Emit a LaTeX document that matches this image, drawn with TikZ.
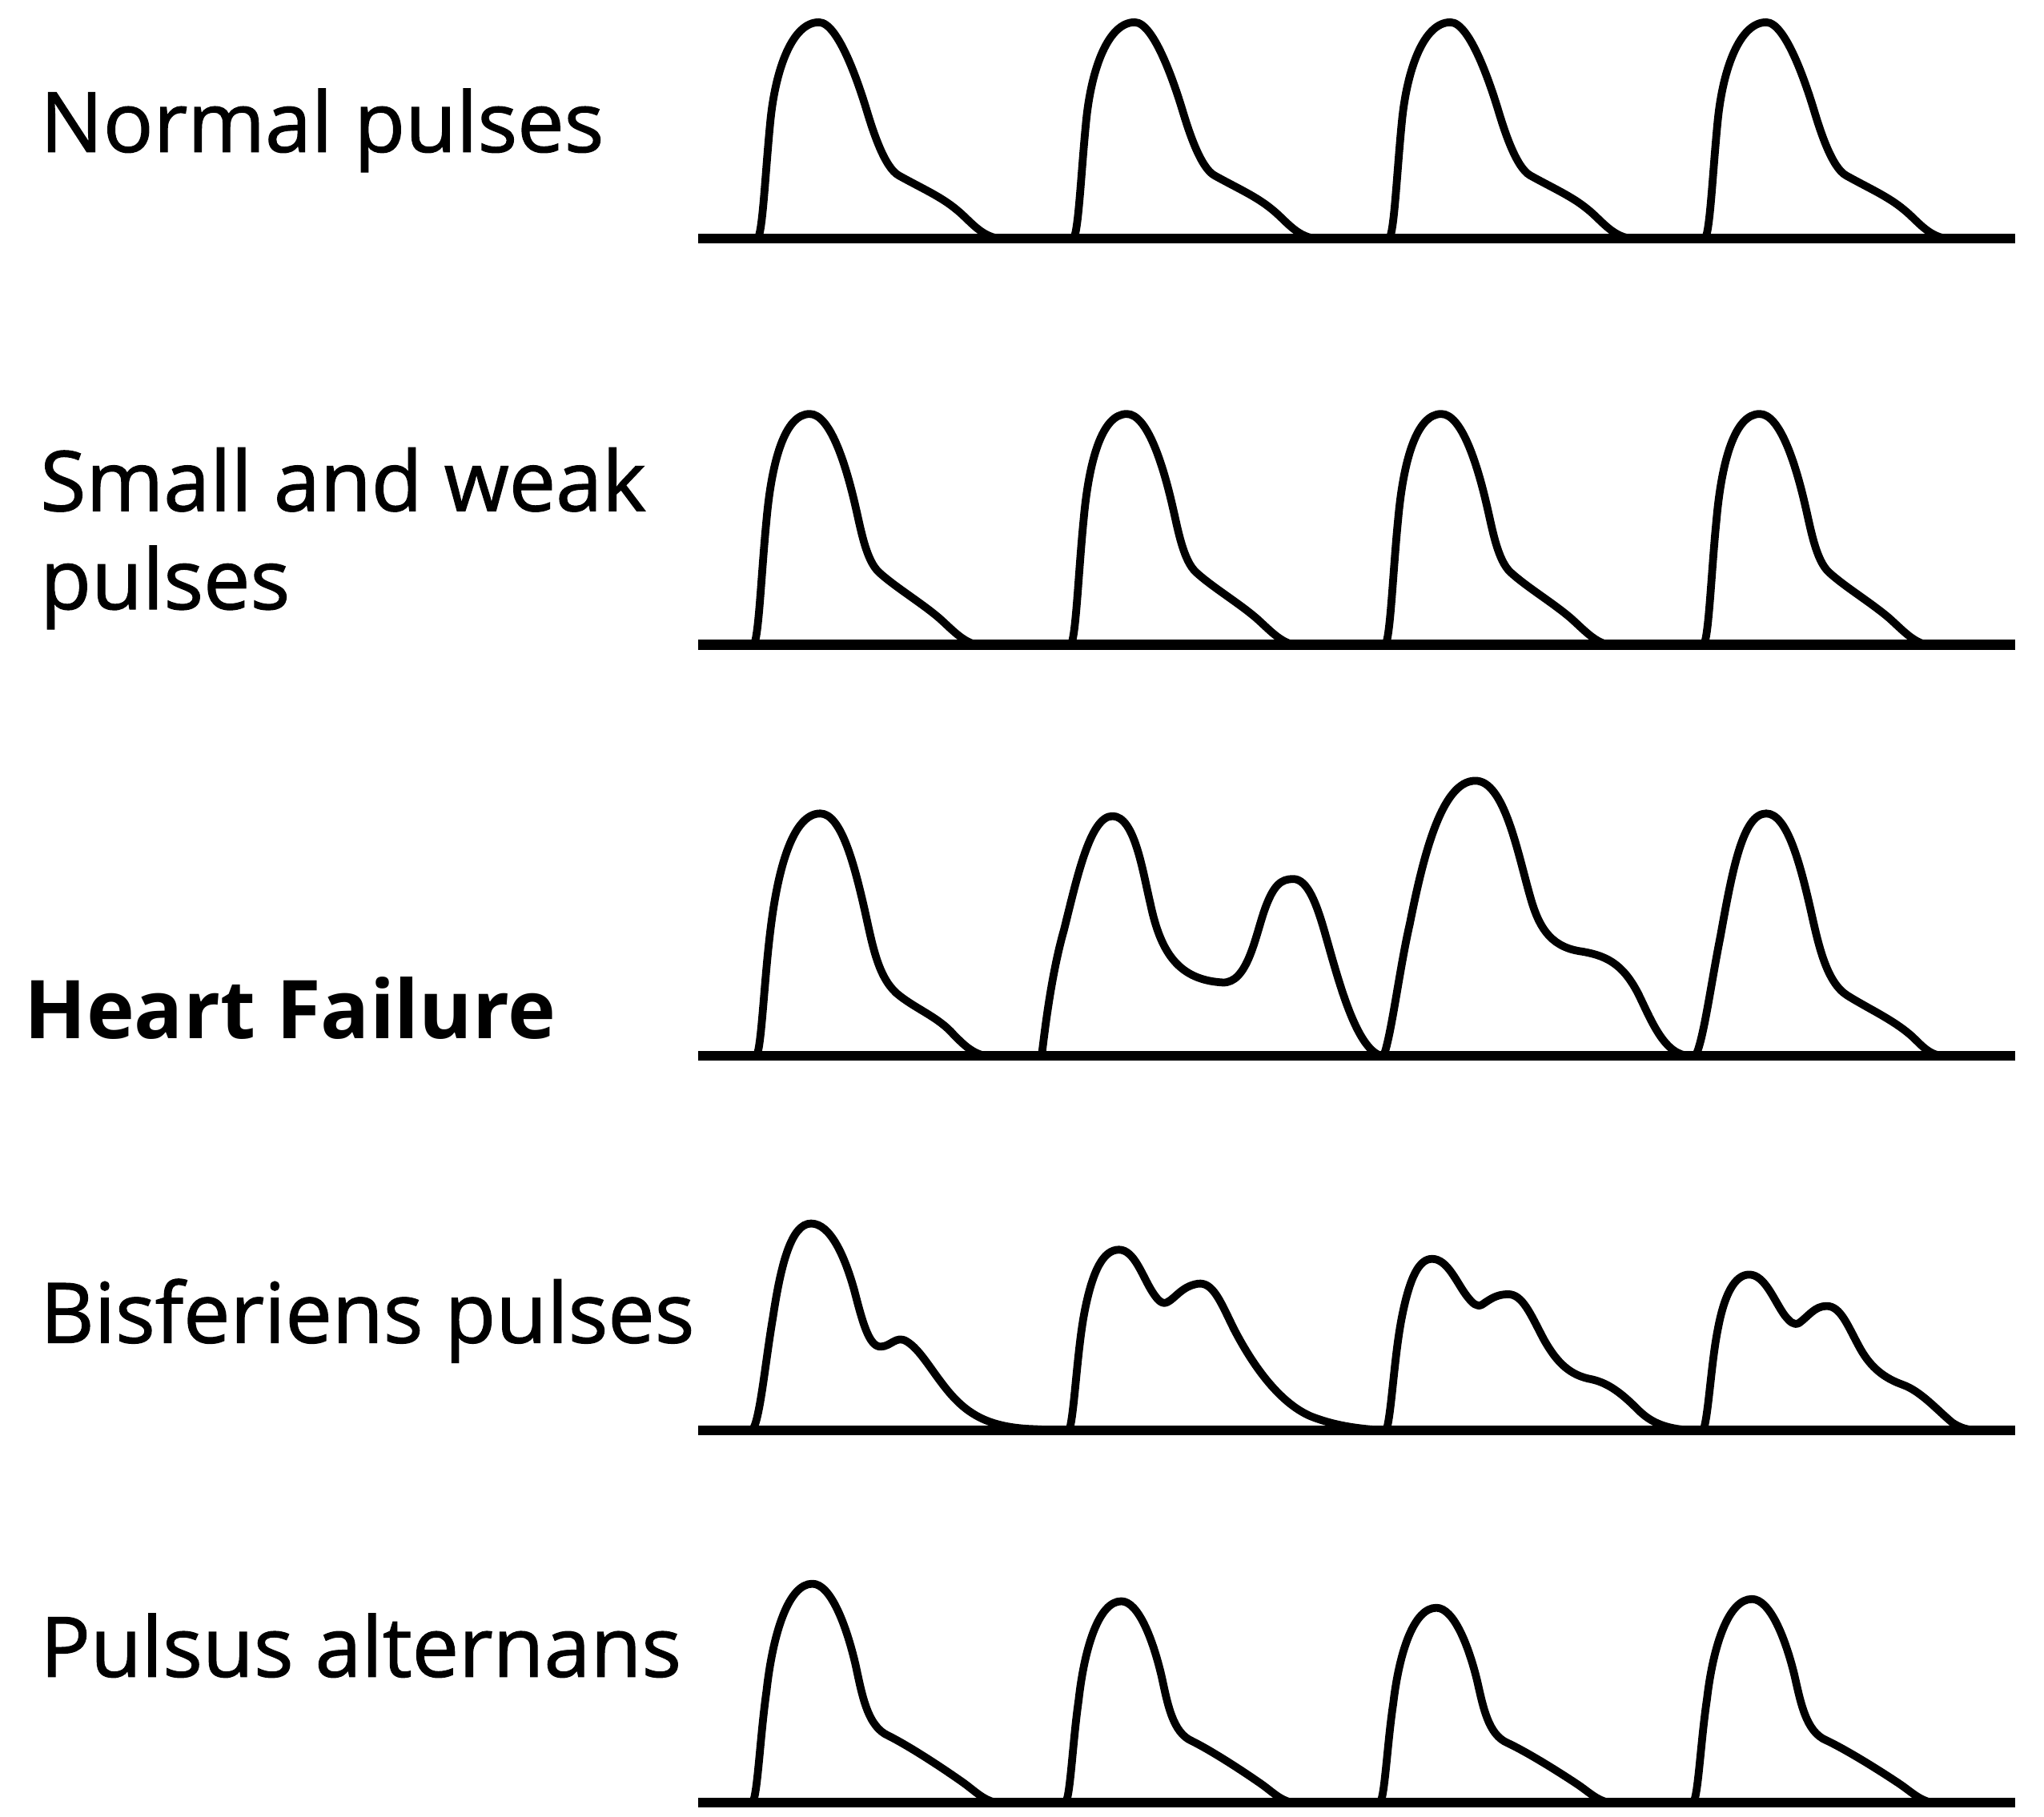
\documentclass[tikz,border=0pt]{standalone}
\usepackage{fontspec}
\setmainfont{Open Sans}
\newfontfamily\lblfont{Open Sans}[FakeBold=1.2]
\begin{document}
\begin{tikzpicture}[x=0.01cm,y=-0.01cm,
	lbl/.style={anchor=base west,inner sep=0pt,font=\fontsize{18.1}{22}\lblfont},
	trace/.style={line width=1.7pt,line join=round,line cap=round},
	axis/.style={line width=2.2pt}]
	\useasboundingbox (0,0) rectangle (1560,1387);
	\foreach \y/\n/\texn in {116/normal/Normal pulses,390/small/Small and weak,
	465/weak/pulses,1025/bisf/Bisferiens pulses,1280/alt/Pulsus alternans}
	\path (30,\y) node[lbl](\n){\texn};
	\path (18,793) node[lbl,font=\fontsize{17.6}{22}\selectfont\bfseries](hf){Heart Failure};
	\foreach \y in {182,492,806,1092,1376}
	\draw[axis] (533,\y)--(1538,\y);
	\foreach \s in {578,819,1060,1301}
	\draw[trace,shift={(\s,182)}] (0,0) .. controls (4,-2) and (6,-50) .. (10,-90)
	.. controls (14,-130) and (27,-165) .. (47,-165)
	.. controls (62,-165) and (78,-116) .. (84,-96)
	.. controls (88,-83) and (97,-54) .. (108,-48)
	.. controls (126,-38) and (140,-32) .. (152,-22)
	.. controls (162,-14) and (170,-2) .. (184,0);
	\foreach \s in {575,817,1057,1300}
	\draw[trace,shift={(\s,492)}] (0,0) .. controls (4,-2) and (6,-55) .. (10,-95)
	.. controls (14,-140) and (24,-176) .. (43,-176)
	.. controls (58,-176) and (70,-140) .. (78,-105)
	.. controls (82,-88) and (86,-64) .. (96,-55)
	.. controls (108,-44) and (128,-32) .. (142,-20)
	.. controls (152,-11) and (160,-2) .. (170,0);
	\draw[trace] (577,806) .. controls (581,804) and (583,750) .. (588,710)
	.. controls (594,660) and (606,621) .. (626,621)
	.. controls (642,621) and (652,660) .. (660,695)
	.. controls (666,722) and (670,745) .. (684,758)
	.. controls (698,770) and (716,776) .. (728,790)
	.. controls (736,798) and (742,804) .. (752,806);
	\draw[trace] (795,806) .. controls (797,790) and (802,745) .. (812,710)
	.. controls (822,670) and (832,623) .. (849,623)
	.. controls (866,623) and (872,665) .. (878,690)
	.. controls (886,728) and (900,748) .. (933,750)
	.. controls (952,751) and (958,715) .. (965,695)
	.. controls (972,675) and (978,671) .. (987,671)
	.. controls (998,671) and (1005,690) .. (1012,715)
	.. controls (1022,750) and (1035,800) .. (1054,806);
	\draw[trace] (1056,806) .. controls (1062,790) and (1068,740) .. (1076,705)
	.. controls (1086,655) and (1100,596) .. (1126,596)
	.. controls (1148,596) and (1158,650) .. (1168,685)
	.. controls (1174,706) and (1182,722) .. (1205,726)
	.. controls (1225,729) and (1238,735) .. (1250,758)
	.. controls (1260,778) and (1270,806) .. (1290,806);
	\draw[trace] (1294,806) .. controls (1300,795) and (1306,750) .. (1313,715)
	.. controls (1322,665) and (1330,621) .. (1348,621)
	.. controls (1364,621) and (1374,660) .. (1382,695)
	.. controls (1388,722) and (1394,750) .. (1410,760)
	.. controls (1426,770) and (1444,778) .. (1458,790)
	.. controls (1466,797) and (1472,806) .. (1484,806);
	\draw[trace] (574,1092) .. controls (580,1085) and (584,1040) .. (590,1005)
	.. controls (596,965) and (604,934) .. (619,934)
	.. controls (634,934) and (645,960) .. (652,985)
	.. controls (658,1008) and (663,1028) .. (672,1028)
	.. controls (680,1028) and (684,1019) .. (692,1024)
	.. controls (702,1030) and (710,1045) .. (722,1060)
	.. controls (738,1080) and (755,1090) .. (790,1091)
	.. controls (800,1091.5) and (810,1092) .. (816,1092);
	\draw[trace] (816,1092) .. controls (820,1080) and (822,1030) .. (828,1000)
	.. controls (834,970) and (842,954) .. (854,954)
	.. controls (866,954) and (872,975) .. (880,987)
	.. controls (884,993) and (887,996) .. (891,994)
	.. controls (897,991) and (902,982) .. (914,980)
	.. controls (926,978) and (932,995) .. (942,1015)
	.. controls (955,1040) and (975,1070) .. (1000,1081)
	.. controls (1020,1089) and (1040,1091) .. (1058,1092);
	\draw[trace] (1058,1092) .. controls (1062,1080) and (1064,1035) .. (1070,1005)
	.. controls (1076,975) and (1083,961) .. (1093,961)
	.. controls (1105,961) and (1112,980) .. (1120,990)
	.. controls (1124,995) and (1127,998) .. (1131,996)
	.. controls (1137,992) and (1142,988) .. (1151,988)
	.. controls (1162,988) and (1168,1003) .. (1178,1022)
	.. controls (1188,1040) and (1198,1050) .. (1215,1053)
	.. controls (1228,1056) and (1238,1064) .. (1250,1076)
	.. controls (1260,1086) and (1272,1092) .. (1298,1092);
	\draw[trace] (1300,1092) .. controls (1304,1080) and (1306,1040) .. (1311,1015)
	.. controls (1316,988) and (1324,973) .. (1335,973)
	.. controls (1347,973) and (1354,993) .. (1362,1004)
	.. controls (1366,1009) and (1369,1012) .. (1373,1010)
	.. controls (1380,1005) and (1385,997) .. (1394,997)
	.. controls (1405,997) and (1410,1012) .. (1420,1030)
	.. controls (1428,1044) and (1438,1052) .. (1452,1057)
	.. controls (1466,1062) and (1478,1076) .. (1490,1086)
	.. controls (1496,1090) and (1502,1092) .. (1512,1092);
	\foreach \s/\a/\b in {574/1/1,813/.93/.92,1053/.94/.89,1292/.98/.93}
	\draw[trace,shift={(\s,1376)},xscale=\a,yscale=\b] (0,0)
	.. controls (4,-2) and (6,-50) .. (11,-85)
	.. controls (16,-130) and (28,-167) .. (46,-167)
	.. controls (60,-167) and (72,-135) .. (79,-105)
	.. controls (84,-82) and (88,-58) .. (104,-51)
	.. controls (118,-44) and (140,-30) .. (160,-16)
	.. controls (170,-9) and (176,-2) .. (186,0);
\end{tikzpicture}
\end{document}
